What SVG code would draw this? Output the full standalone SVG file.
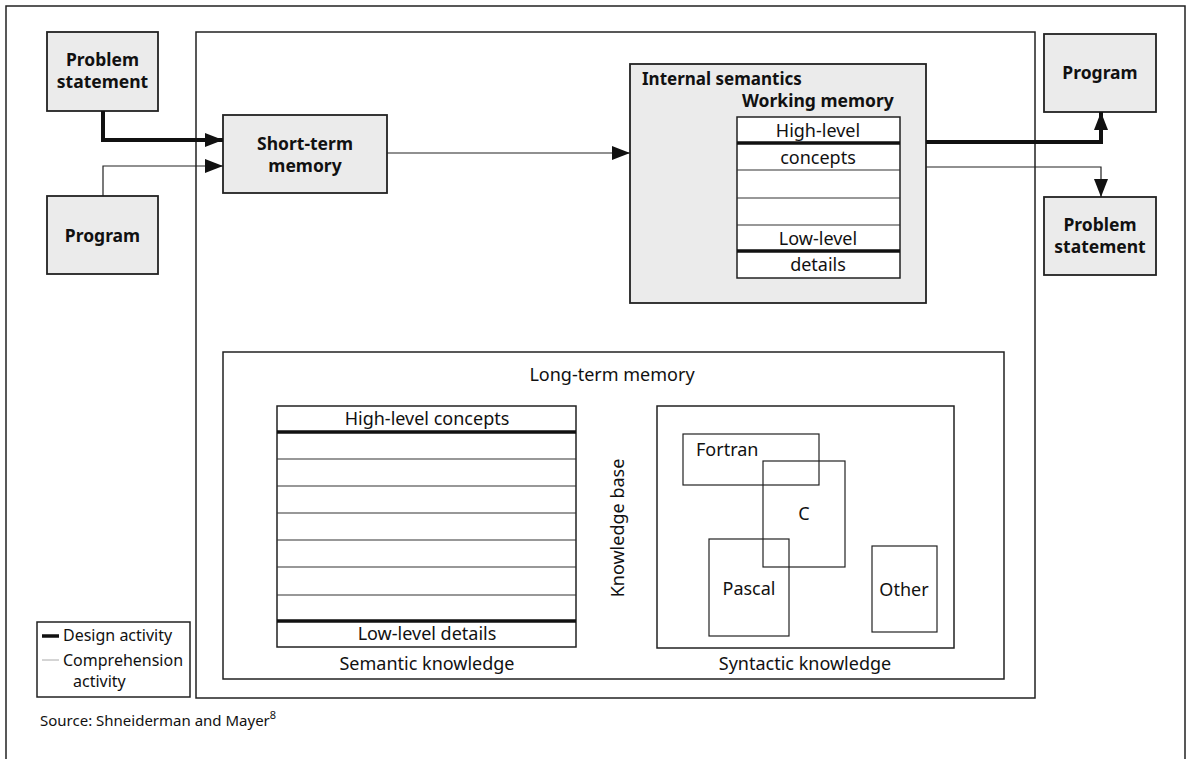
<svg xmlns="http://www.w3.org/2000/svg" width="1187" height="759" viewBox="0 0 1187 759">
<style>
text{font-family:"Noto Sans","Open Sans","Liberation Sans",sans-serif;fill:#111}
.b{font-weight:bold;font-size:17.5px}
.r{font-size:18px}
.m{text-anchor:middle}
.box{fill:none;stroke:#222;stroke-width:1.5}
.sh{fill:#ebebeb;stroke:#222;stroke-width:1.8}
.wh{fill:#fff;stroke:#222;stroke-width:1.5}
.thin{fill:none;stroke:#222;stroke-width:1.2}
.thick{fill:none;stroke:#111;stroke-width:4}
.div{stroke:#333;stroke-width:1.2}
.tdiv{stroke:#111;stroke-width:3.5}
.lg{font-size:16px}
</style>
<defs>
<marker id="ah" markerUnits="userSpaceOnUse" markerWidth="20" markerHeight="14" refX="18" refY="7" orient="auto">
<path d="M0,0 L18,7 L0,14 Z" fill="#111"/>
</marker>
</defs>
<rect width="1187" height="759" fill="#fff"/>
<path d="M6,770 V6 H1185 V770" class="box"/>
<g id="main-box"><rect x="196" y="32" width="839" height="666" class="box"/></g>

<g id="problem-statement-in">
<rect x="47" y="32" width="111" height="79" class="sh"/>
<text x="102.5" y="66" class="b m">Problem</text>
<text x="102.5" y="88" class="b m">statement</text>
</g>
<g id="program-in">
<rect x="47" y="196" width="111" height="78" class="sh"/>
<text x="102.5" y="242" class="b m">Program</text>
</g>
<g id="short-term-memory">
<rect x="223" y="115" width="164" height="78" class="sh"/>
<text x="305" y="150" class="b m">Short-term</text>
<text x="305" y="172" class="b m">memory</text>
</g>
<g id="internal-semantics">
<rect x="630" y="64" width="296" height="239" class="sh"/>
<text x="642" y="85" class="b" style="font-size:17px">Internal semantics</text>
<text x="742" y="107" class="b">Working memory</text>
<g id="working-memory">
<rect x="737" y="117" width="163" height="161" class="wh"/>
<line x1="737" y1="143" x2="900" y2="143" class="tdiv"/>
<line x1="737" y1="170" x2="900" y2="170" class="div"/>
<line x1="737" y1="198" x2="900" y2="198" class="div"/>
<line x1="737" y1="225" x2="900" y2="225" class="div"/>
<line x1="737" y1="251" x2="900" y2="251" class="tdiv"/>
<text x="818" y="137" class="r m">High-level</text>
<text x="818" y="164" class="r m">concepts</text>
<text x="818" y="245" class="r m">Low-level</text>
<text x="818" y="271" class="r m">details</text>
</g>
</g>
<g id="program-out">
<rect x="1044" y="34" width="112" height="78" class="sh"/>
<text x="1100" y="79" class="b m">Program</text>
</g>
<g id="problem-statement-out">
<rect x="1044" y="197" width="112" height="78" class="sh"/>
<text x="1100" y="231" class="b m">Problem</text>
<text x="1100" y="253" class="b m">statement</text>
</g>

<g id="long-term-memory">
<rect x="223" y="352" width="781" height="327" class="box"/>
<text x="612" y="381" class="r m">Long-term memory</text>
<g id="semantic-knowledge">
<rect x="277" y="406" width="299" height="241" class="wh"/>
<line x1="277" y1="432" x2="576" y2="432" class="tdiv"/>
<line x1="277" y1="459" x2="576" y2="459" class="div"/>
<line x1="277" y1="486" x2="576" y2="486" class="div"/>
<line x1="277" y1="513" x2="576" y2="513" class="div"/>
<line x1="277" y1="540" x2="576" y2="540" class="div"/>
<line x1="277" y1="567" x2="576" y2="567" class="div"/>
<line x1="277" y1="595" x2="576" y2="595" class="div"/>
<line x1="277" y1="621" x2="576" y2="621" class="tdiv"/>
<text x="427" y="425" class="r m">High-level concepts</text>
<text x="427" y="640" class="r m">Low-level details</text>
<text x="427" y="670" class="r m">Semantic knowledge</text>
</g>
<text x="0" y="0" class="r m" transform="translate(624,528) rotate(-90)">Knowledge base</text>
<g id="syntactic-knowledge">
<rect x="657" y="406" width="297" height="242" class="box"/>
<text x="805" y="670" class="r m">Syntactic knowledge</text>
<g id="fortran"><rect x="683" y="434" width="136" height="51" class="thin"/><text x="696" y="456" class="r">Fortran</text></g>
<g id="c"><rect x="763" y="461" width="82" height="106" class="thin"/><text x="804" y="520" class="r m">C</text></g>
<g id="pascal"><rect x="709" y="539" width="80" height="97" class="thin"/><text x="749" y="595" class="r m">Pascal</text></g>
<g id="other"><rect x="872" y="546" width="65" height="86" class="thin"/><text x="904" y="596" class="r m">Other</text></g>
</g>
</g>

<g id="connectors">
<path d="M103,111 V140 H223" class="thick" marker-end="url(#ah)"/>
<path d="M103,196 V166 H223" class="thin" marker-end="url(#ah)"/>
<path d="M387,153 H630" class="thin" marker-end="url(#ah)"/>
<path d="M926,142 H1101 V112" class="thick" marker-end="url(#ah)"/>
<path d="M926,167 H1101 V197" class="thin" marker-end="url(#ah)"/>
</g>

<g id="legend">
<rect x="37" y="622" width="153" height="75" class="box"/>
<line x1="42" y1="636" x2="59" y2="636" stroke="#111" stroke-width="3.5"/>
<line x1="42" y1="660" x2="59" y2="660" stroke="#aaa" stroke-width="1"/>
<text x="63" y="641" class="lg">Design activity</text>
<text x="63" y="666" class="lg">Comprehension</text>
<text x="73" y="687" class="lg">activity</text>
</g>
<text x="40" y="726" style="font-size:15px">Source: Shneiderman and Mayer<tspan dy="-7" style="font-size:11px">8</tspan></text>
</svg>
